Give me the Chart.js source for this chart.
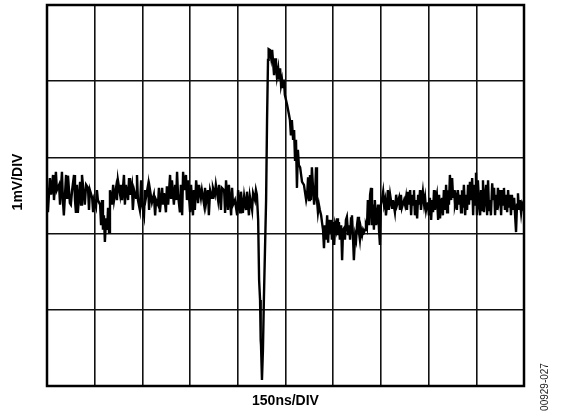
<!DOCTYPE html>
<html>
<head>
<meta charset="utf-8">
<script src="https://cdn.jsdelivr.net/npm/chart.js@4.4.1/dist/chart.umd.min.js"></script>
<style>
  html, body { margin: 0; padding: 0; background: #fff; }
  #box { width: 561px; height: 415px; }
</style>
</head>
<body>
<div id="box"><canvas id="scope" width="561" height="415"></canvas></div>
<script>
// scope trace, time in ns (150 ns/div), level in mV (1 mV/div, centre = 0)
const tempoNs = [
  0, 3, 9, 13, 19, 22, 28, 31, 38, 41, 47, 50, 53, 60, 63, 66, 72, 75, 79, 85,
  88, 91, 94, 97, 104, 107, 110, 116, 119, 123, 129, 132, 135, 142, 145, 148, 154, 157, 160, 167,
  170, 173, 176, 179, 182, 186, 189, 192, 195, 198, 204, 208, 211, 217, 220, 223, 230, 233, 236, 242,
  245, 248, 255, 258, 261, 267, 270, 274, 280, 283, 286, 292, 296, 299, 305,
  308, 311, 318, 321, 324, 330, 336, 340, 343, 349, 352, 355, 362, 365, 368, 374, 377, 381, 387, 390,
  393, 399, 403, 406, 409, 412, 418, 421, 425, 428, 431, 437, 440, 443, 450, 453, 459, 462, 465, 469,
  475, 478, 484, 487, 494, 497, 500, 506, 509, 513, 519, 522, 528, 531, 538, 541, 547, 550, 557, 560,
  563, 569, 572, 579, 582, 585,
  591, 598, 601, 607, 610, 616, 620, 626, 629, 635, 638, 645, 648, 654, 657, 660, 664, 667, 670, 672,
  673, 676, 679, 682, 689, 692, 695, 697, 701, 705, 708, 711, 714, 717, 720, 723, 727, 730, 733, 736,
  739, 742, 745, 748, 755, 761, 764, 767, 770, 774, 777, 780, 783, 786, 789, 792, 796, 802, 808, 815,
  818, 821, 824, 827, 830, 833, 837, 840, 843, 846, 849, 852, 855, 858, 862, 865, 868, 871, 874, 877,
  881, 884, 887, 890, 893, 896, 899, 903, 906, 909, 912, 915, 918, 921, 925, 928, 931, 934, 937, 940,
  943, 947, 950, 953, 956, 959, 962, 965, 969, 972, 975, 978, 981, 984, 987, 991, 994, 997, 1000, 1003,
  1006, 1009, 1013, 1016, 1019, 1022, 1025, 1028, 1031, 1035, 1038, 1041, 1044, 1047, 1050, 1053, 1057, 1060, 1063, 1066,
  1069, 1072,
  1075, 1079, 1085, 1088, 1094, 1098, 1101, 1107, 1110, 1113, 1116, 1123, 1126, 1129, 1132, 1135, 1138, 1142, 1145, 1148,
  1151, 1154, 1157, 1160, 1164, 1167, 1170, 1173, 1176, 1179, 1182, 1186, 1189, 1192, 1195, 1198, 1201, 1204, 1208, 1211,
  1214, 1217, 1220, 1223, 1226, 1230, 1233, 1236, 1239, 1242, 1245, 1248, 1252, 1255, 1258, 1261, 1264, 1267, 1271, 1274,
  1277, 1280, 1283,
  1286, 1289, 1292, 1296, 1299, 1302, 1305, 1308, 1311, 1315, 1318, 1321, 1324, 1327, 1330, 1333, 1337, 1340, 1343, 1346,
  1349, 1352, 1355, 1359, 1362, 1365, 1368, 1371, 1374, 1378, 1381, 1384, 1387, 1390, 1393, 1396, 1400, 1403, 1406, 1409,
  1412, 1415, 1418, 1421, 1425, 1428, 1431, 1434, 1437, 1440, 1443, 1447, 1450, 1453, 1456, 1459, 1462, 1466, 1469, 1472,
  1475, 1478, 1481, 1484, 1487, 1491, 1494, 1497, 1500
];

const nivelMv = [
  0.10, -0.22, 0.23, 0.01, 0.27, -0.06, 0.31, 0.07, 0.14, -0.12, 0.31, -0.06, -0.26, 0.27, -0.03, 0.26, -0.10, -0.12, 0.07, 0.27,
  -0.06, -0.23, 0.14, -0.23, 0.18, -0.12, 0.27, 0.01, -0.12, 0.14, 0.10, -0.19, 0.07, -0.03, -0.22, -0.06, -0.15, 0.07, -0.06, -0.12,
  -0.39, -0.06, -0.45, -0.26, -0.61, -0.30, -0.45, -0.16, -0.48, 0.07, -0.12, 0.14, -0.06, 0.10, -0.06, 0.20, 0.01, 0.14, -0.06, 0.27,
  -0.12, 0.14, -0.06, 0.23, 0.01, 0.14, -0.19, 0.07, -0.03, 0.27, -0.06, -0.19, 0.20, -0.12, -0.26,
  0.07, -0.03, 0.14, -0.19, 0.07, -0.09, 0.01, -0.26, -0.06, -0.12, 0.10, -0.22, 0.10, -0.12, 0.03, -0.22, 0.12, -0.12, 0.27, -0.03,
  0.20, -0.12, 0.14, -0.06, 0.31, 0.01, -0.22, 0.14, -0.26, 0.31, 0.07, 0.27, -0.06, 0.20, -0.22, 0.14, -0.26, 0.07, -0.19, 0.20,
  -0.10, 0.14, -0.03, 0.07, -0.12, 0.10, -0.10, 0.07, -0.26, 0.07, -0.03, 0.10, 0.01, 0.14, -0.06, 0.14, -0.19, 0.10, 0.07, -0.23,
  0.20, -0.19, 0.14, -0.26, 0.10, -0.12,
  -0.06, -0.26, 0.07, -0.22, 0.05, -0.23, -0.01, -0.19, 0.05, -0.26, -0.01, -0.19, 0.03, -0.06, 0.07, 0.01, -0.32, -1.11, -1.37, -1.90,
  -1.96, -2.42, -2.03, -1.37, -0.06, 0.99, 1.78, 1.92, 1.91, 1.80, 1.91, 1.75, 1.58, 1.80, 1.71, 1.56, 1.67, 1.52, 1.67, 1.45,
  1.52, 1.41, 1.52, 1.32, 1.19, 1.06, 0.99, 0.79, 0.99, 0.73, 0.86, 0.47, 0.73, 0.10, 0.60, 0.40, 0.37, 0.18, 0.14, -0.06,
  0.01, 0.24, -0.06, 0.27, -0.06, 0.37, 0.07, -0.12, 0.01, 0.37, -0.06, -0.22, -0.12, -0.19, -0.26, -0.36, -0.45, -0.69, -0.39, -0.58,
  -0.26, -0.62, -0.32, -0.48, -0.32, -0.58, -0.35, -0.65, -0.39, -0.45, -0.30, -0.52, -0.35, -0.58, -0.39, -0.85, -0.45, -0.43, -0.58, -0.32,
  -0.28, -0.52, -0.39, -0.58, -0.30, -0.26, -0.52, -0.85, -0.52, -0.58, -0.39, -0.28, -0.48, -0.58, -0.43, -0.52, -0.45, -0.48, -0.45, -0.39,
  -0.43, -0.06, -0.39, 0.01, 0.10, -0.39, -0.12, -0.45, -0.06, -0.39, -0.26, -0.12, -0.45, -0.65, -0.12, -0.06, 0.05, -0.12, -0.06, -0.26,
  -0.12, 0.07,
  -0.19, 0.01, -0.16, -0.06, -0.22, 0.01, -0.12, -0.03, -0.19, 0.01, -0.16, -0.06, -0.12, -0.03, -0.19, 0.05, -0.12, 0.07, -0.26, 0.01,
  -0.12, 0.07, -0.26, -0.06, -0.30, 0.01, -0.12, 0.07, -0.19, -0.06, 0.05, -0.12, -0.03, -0.19, -0.12, -0.09, -0.26, -0.03, -0.32, -0.06,
  -0.22, 0.07, -0.19, -0.06, 0.01, -0.32, 0.01, -0.30, -0.06, -0.03, -0.26, 0.07, -0.19, 0.14, -0.22, 0.07, -0.12, 0.27, -0.06, 0.23,
  -0.03, 0.07, -0.12,
  -0.06, -0.19, 0.07, -0.12, 0.01, -0.22, 0.07, -0.16, 0.14, -0.26, 0.01, -0.19, 0.14, -0.12, 0.18, -0.06, 0.23, -0.26, 0.14, -0.12,
  0.30, -0.26, 0.20, -0.12, -0.26, 0.07, -0.19, 0.20, -0.22, 0.01, 0.14, -0.26, 0.20, -0.19, -0.06, -0.26, 0.16, -0.06, 0.10, -0.26,
  0.01, -0.19, 0.10, -0.06, 0.07, -0.26, 0.07, -0.12, 0.10, -0.19, 0.01, -0.22, 0.07, -0.16, 0.01, -0.26, 0.01, -0.19, -0.03, -0.26,
  -0.48, -0.12, 0.03, -0.19, -0.06, -0.23, -0.12, -0.16, -0.06
];

// divisoes do graticulado
const gradeX = [0, 150, 300, 450, 600, 750, 900, 1050, 1200, 1350, 1500];
const gradeY = [-2.5, -1.5, -0.5, 0.5, 1.5, 2.5];

const textoY = '1mV/DIV';
const textoX = '150ns/DIV';
const codigoFig = '00929-027';

const pontos = tempoNs.map((t, i) => ({ x: t, y: nivelMv[i] }));

const fonte = '"Liberation Sans", Arial, sans-serif';

const moldura = {
  id: 'moldura',
  afterDraw(chart) {
    const c = chart.ctx;
    const a = chart.chartArea;
    c.save();
    c.strokeStyle = '#000';
    c.lineWidth = 2.5;
    c.strokeRect(a.left, a.top, a.right - a.left, a.bottom - a.top);

    c.fillStyle = '#000';
    c.textAlign = 'center';
    c.textBaseline = 'middle';
    c.font = 'bold 14px ' + fonte;
    c.fillText(textoX, (a.left + a.right) / 2, 401);

    c.save();
    c.translate(18, 182);
    c.rotate(-Math.PI / 2);
    c.fillText(textoY, 0, 0);
    c.restore();

    c.save();
    c.translate(545, 387);
    c.rotate(-Math.PI / 2);
    c.font = '10px ' + fonte;
    c.fillStyle = '#222';
    c.fillText(codigoFig, 0, 0);
    c.restore();
    c.restore();
  }
};

const ctx = document.getElementById('scope').getContext('2d');

let grafico = new Chart(ctx, {
  type: 'line',
  data: {
    datasets: [{
      data: pontos,
      borderColor: '#000',
      borderWidth: 2.4,
      pointRadius: 0,
      tension: 0,
      fill: false
    }]
  },
  options: {
    responsive: false,
    animation: false,
    layout: { padding: { left: 47, top: 5, right: 37, bottom: 29 } },
    plugins: {
      legend: { display: false },
      tooltip: { enabled: false }
    },
    scales: {
      x: {
        type: 'linear',
        min: 0,
        max: 1500,
        afterBuildTicks: (s) => { s.ticks = gradeX.map(v => ({ value: v })); },
        ticks: { display: false },
        grid: { color: '#111', lineWidth: 1.6, drawTicks: false },
        border: { display: false }
      },
      y: {
        type: 'linear',
        min: -2.5,
        max: 2.5,
        afterBuildTicks: (s) => { s.ticks = gradeY.map(v => ({ value: v })); },
        ticks: { display: false },
        grid: { color: '#111', lineWidth: 1.6, drawTicks: false },
        border: { display: false }
      }
    }
  },
  plugins: [moldura]
});
</script>
</body>
</html>
